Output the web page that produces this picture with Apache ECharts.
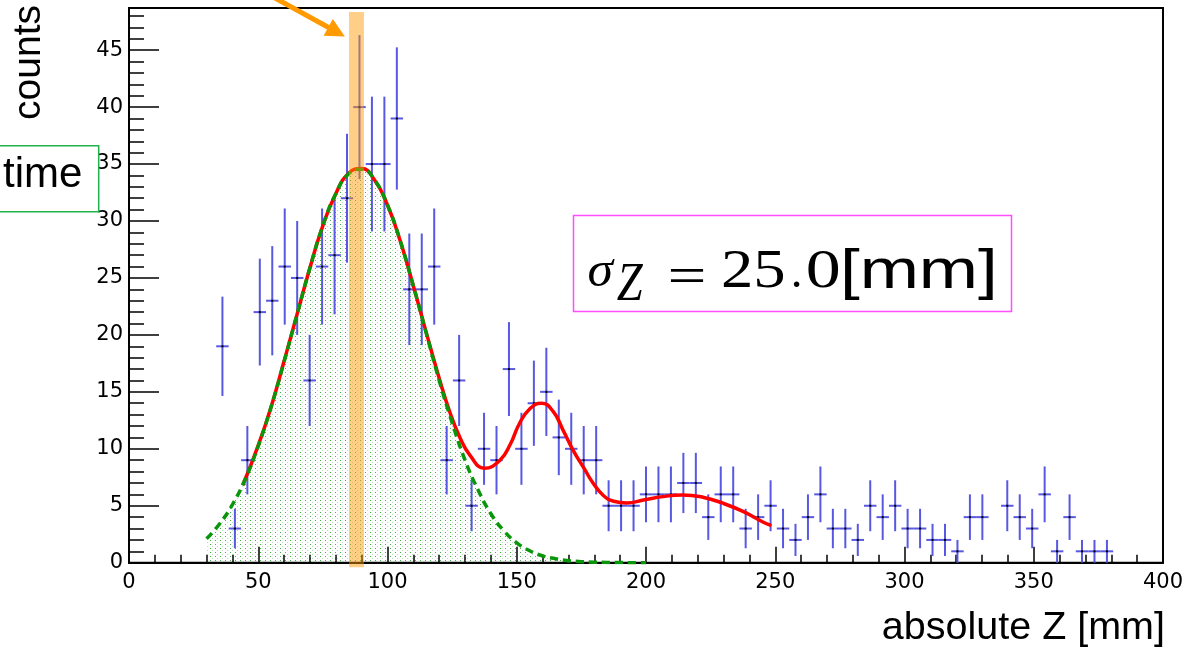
<!DOCTYPE html>
<html><head><meta charset="utf-8">
<script src="https://cdn.jsdelivr.net/npm/echarts@6.0.0/dist/echarts.min.js"></script>
<style>html,body{margin:0;padding:0;background:#fff}#c{width:1184px;height:648px}</style>
</head><body><div id="c"></div>
<script>
// ---- data ----
const binWidth = 400 / 83;     // histogram bin width [mm]
const firstBin = 7;            // index of first drawn bin
const counts = [19,3,9,22,23,26,25,16,26,27,32,40,35,35,39,24,24,26,9,16,5,10,9,17,10,14,15,11,10,9,9,5,5,5,6,6,6,7,7,4,6,6,3,4,5,3,2,4,6,3,3,2,5,4,5,3,3,2,2,1,4,4,0,5,4,3,6,1,4,1,1,1];

const gausX = [30,35,40,45,50,55,60,65,70,75,80,85,90,95,100,105,110,115,120,125,130,135,140,145,150,155,160,165,170,175,180,185,190,195,200];
const gausY = [2.1,3.4,5.1,7.35,10.25,13.7,17.65,21.8,25.9,29.6,32.4,34.15,34.55,33.6,31.4,28.2,24.3,20.15,16.0,12.3,9.0,6.4,4.3,2.8,1.75,1.05,0.6,0.35,0.18,0.09,0.05,0.02,0.01,0.0,0.0];

const fitX = [44,50,55,60,65,70,75,80,85,90,95,100,105,110,115,120,124,128,132,137.5,143.5,147.5,151,155,159.5,164,168,172,176,179.5,183.5,187.5,192.5,199,206.5,214,222,230,237.5,245,248.5];
const fitY = [6.8,10.3,13.7,17.7,21.8,25.9,29.6,32.4,34.2,34.6,33.6,31.4,28.2,24.3,20.2,16.2,13.3,11.0,9.4,8.3,9.0,10.4,12.2,13.5,14.0,13.3,11.6,9.8,8.3,7.0,5.9,5.4,5.25,5.5,5.8,5.95,5.75,5.2,4.5,3.6,3.25];

const xMin = 0, xMax = 400, xInterval = 50;
const yMin = 0, yMax = 48.7;
const yMajorTicks = [0,5,10,15,20,25,30,35,40,45];
const yMinorTicks = [1,2,3,4,6,7,8,9,11,12,13,14,16,17,18,19,21,22,23,24,26,27,28,29,31,32,33,34,36,37,38,39,41,42,43,44,46,47,48];

const bandX = [85.1, 90.9];
const bandY = [-0.4, 48.35];
const arrowFrom = [55.5, 49.7];
const arrowTo = [83.5, 46.2];

// ---- chart ----
const chart = echarts.init(document.getElementById('c'), null, {renderer: 'canvas'});

const pc = document.createElement('canvas');
pc.width = 5; pc.height = 4;
const pg = pc.getContext('2d');
pg.fillStyle = 'rgba(20,160,20,0.8)'; pg.fillRect(0, 0, 1, 1);
pg.fillStyle = 'rgba(20,160,20,0.3)'; pg.fillRect(2, 2, 1, 1);

const histData = [];
counts.forEach((n, i) => {
  if (n > 0) histData.push([(firstBin + i + 0.5) * binWidth, n, Math.sqrt(n)]);
});

const BLUE = 'rgb(88,88,226)';
const tickFont = 'DejaVu Sans';

const option = {
  animation: false,
  backgroundColor: '#fff',
  grid: {left: 129, right: 21, top: 8, bottom: 85.3, show: true, borderColor: '#000', borderWidth: 2, containLabel: false, outerBoundsMode: 'none'},
  xAxis: {
    type: 'value', min: xMin, max: xMax, interval: xInterval,
    axisLine: {lineStyle: {color: '#000', width: 2}},
    axisTick: {inside: true, length: 16, lineStyle: {color: '#000', width: 1.5}},
    minorTick: {show: true, splitNumber: 5, length: 8, lineStyle: {color: '#000', width: 1.5}},
    axisLabel: {color: '#000', fontFamily: tickFont, fontSize: 21, margin: 9, showMinLabel: true, showMaxLabel: true},
    splitLine: {show: false}, minorSplitLine: {show: false}
  },
  yAxis: [{
    type: 'value', min: yMin, max: yMax, position: 'left',
    axisLine: {show: true, lineStyle: {color: '#000', width: 2}},
    axisTick: {show: true, inside: true, length: 30, customValues: yMajorTicks, lineStyle: {color: '#000', width: 1.5}},
    axisLabel: {color: '#000', fontFamily: tickFont, fontSize: 21, margin: 6, customValues: yMajorTicks},
    splitLine: {show: false}
  }, {
    type: 'value', min: yMin, max: yMax, position: 'left', offset: 0,
    axisLine: {show: false},
    axisTick: {show: true, inside: true, length: 15, customValues: yMinorTicks, lineStyle: {color: '#000', width: 1.5}},
    axisLabel: {show: false},
    splitLine: {show: false}
  }],
  series: [{
    name: 'fill', type: 'line', data: gausX.map((x, i) => [x, gausY[i]]),
    smooth: true, symbol: 'none', z: 1, silent: true,
    lineStyle: {width: 0, opacity: 0},
    areaStyle: {color: {image: pc, repeat: 'repeat'}, opacity: 1}
  }, {
    name: 'hist', type: 'custom', data: histData, z: 2,
    encode: {x: 0, y: 1},
    renderItem: function (params, api) {
      const xc = api.value(0), y = api.value(1), e = api.value(2);
      const pL = api.coord([xc - binWidth / 2, y]);
      const pR = api.coord([xc + binWidth / 2, y]);
      const pT = api.coord([xc, y + e]);
      const pB = api.coord([xc, y - e]);
      const st = {stroke: BLUE, lineWidth: 2};
      return {type: 'group', children: [
        {type: 'line', shape: {x1: pL[0], y1: pL[1], x2: pR[0], y2: pR[1]}, style: st},
        {type: 'line', shape: {x1: pT[0], y1: pT[1], x2: pB[0], y2: pB[1]}, style: st},
        {type: 'rect', shape: {x: pT[0] - 1, y: pL[1] - 1, width: 2, height: 2}, style: {fill: '#000'}}
      ]};
    }
  }, {
    name: 'fit', type: 'line', data: fitX.map((x, i) => [x, fitY[i]]),
    smooth: true, symbol: 'none', z: 4,
    lineStyle: {color: '#ff0000', width: 3.5}
  }, {
    name: 'gauss', type: 'line', data: gausX.map((x, i) => [x, gausY[i]]),
    smooth: true, symbol: 'none', z: 5,
    lineStyle: {color: '#0a960a', width: 3.5, type: [8, 5]}
  }]
};
chart.setOption(option);

// ---- annotations (positions converted through the chart's scales) ----
const fnd = {xAxisIndex: 0, yAxisIndex: 0};
const b0 = chart.convertToPixel(fnd, [bandX[0], bandY[1]]);
const b1 = chart.convertToPixel(fnd, [bandX[1], bandY[0]]);
const a0 = chart.convertToPixel(fnd, arrowFrom);
const a1 = chart.convertToPixel(fnd, arrowTo);
const dx = a1[0] - a0[0], dy = a1[1] - a0[1], L = Math.hypot(dx, dy), ux = dx / L, uy = dy / L;
const headLen = 19, headW = 19;
const bx = a1[0] - ux * headLen, by = a1[1] - uy * headLen;

const ORANGE = '#ff9a00';
const SERIF = '"Liberation Serif", "Times New Roman", serif';
const SANS = '"Liberation Sans", Arial, sans-serif';

function txt(text, x, y, family, size, italic, align, extra) {
  return Object.assign({type: 'text', x: x, y: y, z: 100,
    style: {text: text, fontFamily: family, fontSize: size, fontStyle: italic ? 'italic' : 'normal',
      fill: '#000', align: align, verticalAlign: 'middle', textAlign: align, textVerticalAlign: 'middle'}}, extra || {});
}

// fit a text's ink box into a box [L,R]x[T,B] of the layout
const mctx = document.createElement('canvas').getContext('2d');
function boxText(text, font, Lx, Rx, Ty, By) {
  mctx.font = font;
  mctx.textBaseline = 'middle';
  mctx.textAlign = 'left';
  const m = mctx.measureText(text);
  const sx = (Rx - Lx) / (m.actualBoundingBoxLeft + m.actualBoundingBoxRight);
  const sy = (By - Ty) / (m.actualBoundingBoxAscent + m.actualBoundingBoxDescent);
  return {type: 'text', z: 100, x: Lx + m.actualBoundingBoxLeft * sx, y: Ty + m.actualBoundingBoxAscent * sy,
    scaleX: sx, scaleY: sy,
    style: {text: text, font: font, fill: '#000', align: 'left', verticalAlign: 'middle', textAlign: 'left', textVerticalAlign: 'middle'}};
}
const FS = '56px "Liberation Serif"', FSI = 'italic 56px "Liberation Serif"', FA = '56px "Liberation Sans"';

chart.setOption({graphic: [
  {type: 'rect', z: 90, shape: {x: b0[0], y: b0[1], width: b1[0] - b0[0], height: b1[1] - b0[1]}, style: {fill: 'rgba(255,153,0,0.47)'}},
  {type: 'line', z: 91, shape: {x1: a0[0], y1: a0[1], x2: bx + ux * 2, y2: by + uy * 2}, style: {stroke: ORANGE, lineWidth: 5}},
  {type: 'polygon', z: 91, shape: {points: [[a1[0], a1[1]], [bx - uy * headW / 2, by + ux * headW / 2], [bx + uy * headW / 2, by - ux * headW / 2]]}, style: {fill: ORANGE}},
  // sigma box
  {type: 'rect', z: 95, shape: {x: 573.5, y: 215.5, width: 438, height: 96}, style: {fill: '#fff', stroke: '#ff4dff', lineWidth: 1.5}},
  boxText('σ', FSI, 588.3, 615, 260, 287.3),
  boxText('Z', FSI, 616.7, 643.3, 263.3, 300),
  boxText('=', FS, 670, 703.3, 268.3, 281.7),
  boxText('25', FS, 723.3, 783.3, 250, 288.3),
  boxText('.', FS, 793.3, 800, 281.7, 288.3),
  boxText('0', FS, 808.3, 838.3, 250, 288.3),
  boxText('[mm]', FA, 845, 993.3, 248.3, 300),
  // time box
  {type: 'rect', z: 95, shape: {x: -5, y: 145.7, width: 103.7, height: 66}, style: {fill: '#fff', stroke: '#22b24c', lineWidth: 1.5}},
  txt('time', 3, 175, SANS, 42, false, 'left'),
  // axis titles
  txt('absolute Z [mm]', 1165, 628, SANS, 39.5, false, 'right'),
  txt('counts', 29.5, 5, SANS, 39, false, 'right', {rotation: Math.PI / 2})
]});
</script>
</body></html>
